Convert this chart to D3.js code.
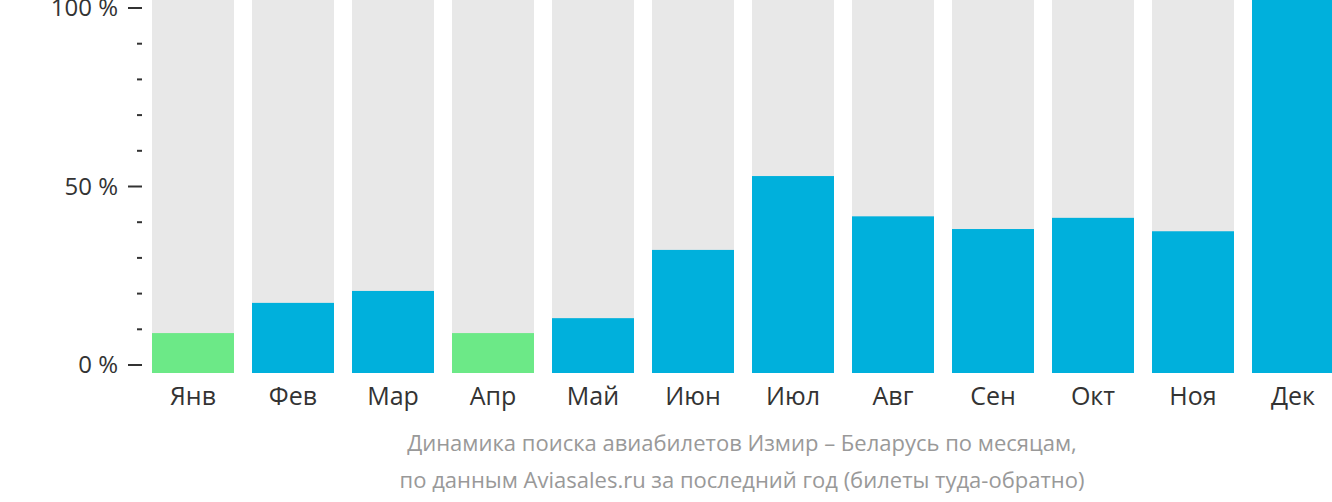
<!DOCTYPE html>
<html><head><meta charset="utf-8">
<script src="https://cdn.jsdelivr.net/npm/d3@7"></script>
<style>body{margin:0;background:#fff}text{font-family:"Open Sans",sans-serif}</style>
</head><body>
<svg id="c" width="1332" height="502"></svg>
<script>
var months = ["Янв","Фев","Мар","Апр","Май","Июн","Июл","Авг","Сен","Окт","Ноя","Дек"];
var values = [10.7, 18.8, 22, 10.7, 14.7, 33, 52.8, 42, 38.6, 41.6, 38, 100];
var lowest = [true, false, false, true, false, false, false, false, false, false, false, false];
var tickValues = [0,10,20,30,40,50,60,70,80,90,100];
var caption = ["Динамика поиска авиабилетов Измир – Беларусь по месяцам,",
  "по данным Aviasales.ru за последний год (билеты туда-обратно)"];

var svg = d3.select("#c");

var x = d3.scaleBand().domain(months).range([152, 1334]).paddingInner(0.18).paddingOuter(0);
var y = d3.scaleLinear().domain([0, 100]).range([373, 0]);
var yAxisScale = d3.scaleLinear().domain([0, 100]).range([365, 8]);

// grey background bars
svg.selectAll(".bg").data(months).enter().append("rect")
  .attr("x", function (d) { return x(d); })
  .attr("width", x.bandwidth())
  .attr("y", y(100)).attr("height", y(0) - y(100))
  .attr("fill", "#e8e8e8");

svg.selectAll(".bar").data(values).enter().append("rect")
  .attr("x", function (d, i) { return x(months[i]); })
  .attr("width", x.bandwidth())
  .attr("y", function (d) { return y(d); })
  .attr("height", function (d) { return y(0) - y(d); })
  .attr("fill", function (d, i) { return lowest[i] ? "#6ce987" : "#00b0dc"; });

// axis
var ax = svg.append("g").attr("transform", "translate(142,0)");
ax.selectAll("line").data(tickValues).enter().append("line")
  .attr("x1", function (d) { return d % 50 === 0 ? -14 : -5; }).attr("x2", 0)
  .attr("y1", function (d) { return yAxisScale(d); })
  .attr("y2", function (d) { return yAxisScale(d); })
  .attr("stroke", "#333").attr("stroke-width", 2);
ax.selectAll("text").data([0, 50, 100]).enter().append("text")
  .attr("x", -24).attr("y", function (d) { return yAxisScale(d); })
  .attr("dy", "0.35em").attr("text-anchor", "end")
  .attr("font-size", 24).attr("fill", "#333")
  .text(function (d) { return d + " %"; });

svg.selectAll(".ml").data(months).enter().append("text")
  .attr("x", function (d) { return x(d) + x.bandwidth() / 2; })
  .attr("y", 405).attr("text-anchor", "middle")
  .attr("font-size", 25).attr("fill", "#333")
  .text(function (d) { return d; });

svg.selectAll(".cap").data(caption).enter().append("text")
  .attr("x", 742).attr("y", function (d, i) { return 451 + i * 37; })
  .attr("text-anchor", "middle").attr("font-size", 22).attr("fill", "#999")
  .text(function (d) { return d; });
</script>
</body></html>
